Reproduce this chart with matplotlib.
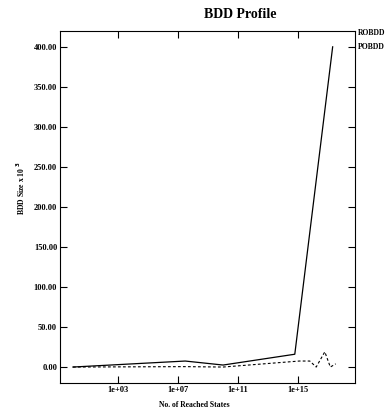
import numpy as np
import matplotlib.pyplot as plt
from matplotlib.ticker import FixedLocator, FixedFormatter, FormatStrFormatter

# reached states (x) and BDD size in thousands (y)
robdd_states = [1, 3e7, 1e10, 6e14, 2e17]
robdd_size = [0, 7.5, 2.5, 16, 400]

pobdd_states = [1, 3e7, 1e10, 1.2e15, 6e15, 1.6e16, 6e16, 1.4e17, 3.2e17]
pobdd_size = [0, 0.5, 0, 7.5, 7.5, 0, 19, 0, 4]

x_ticks = [1e3, 1e7, 1e11, 1e15]
x_tick_labels = ["1e+03", "1e+07", "1e+11", "1e+15"]
y_ticks = [0, 50, 100, 150, 200, 250, 300, 350, 400]

plt.rcParams['font.family'] = ['Liberation Serif', 'DejaVu Serif']
plt.rcParams['font.weight'] = 'bold'

fig = plt.figure(figsize=(3.89, 4.11), dpi=100)
ax = fig.add_axes([0.154, 0.068, 0.759, 0.857])

ax.plot(robdd_states, robdd_size, color='black', linewidth=0.9)
ax.plot(pobdd_states, pobdd_size, color='black', linewidth=0.8, linestyle=(0, (2.5, 2)))

ax.set_xscale('log')
ax.set_xlim(10 ** -0.87, 10 ** 18.8)
ax.set_ylim(-20, 420)

ax.xaxis.set_major_locator(FixedLocator(x_ticks))
ax.xaxis.set_major_formatter(FixedFormatter(x_tick_labels))
ax.xaxis.set_minor_locator(FixedLocator([]))
ax.yaxis.set_major_locator(FixedLocator(y_ticks))
ax.yaxis.set_major_formatter(FormatStrFormatter('%.2f'))

ax.tick_params(direction='in', top=True, right=True, length=5, width=0.8,
               labelsize=6, pad=2)
for sp in ax.spines.values():
    sp.set_linewidth(0.8)

fig.text(240 / 389, 1 - 15 / 411, "BDD Profile", ha='center', va='center',
         fontsize=10, fontweight='bold')
fig.text(194 / 389, 1 - 405 / 411, "No. of Reached States", ha='center', va='center',
         fontsize=5.5, fontweight='bold')
fig.text(21 / 389, 1 - 188 / 411, r"BDD Size x 10$^{\ 3}$", ha='center', va='center',
         rotation=90, fontsize=5.5, fontweight='bold')

fig.text(358 / 389, 1 - 33 / 411, "ROBDD", ha='left', va='center',
         fontsize=5.5, fontweight='bold')
fig.text(358 / 389, 1 - 47 / 411, "POBDD", ha='left', va='center',
         fontsize=5.5, fontweight='bold')

fig.savefig("out.png", dpi=100)
